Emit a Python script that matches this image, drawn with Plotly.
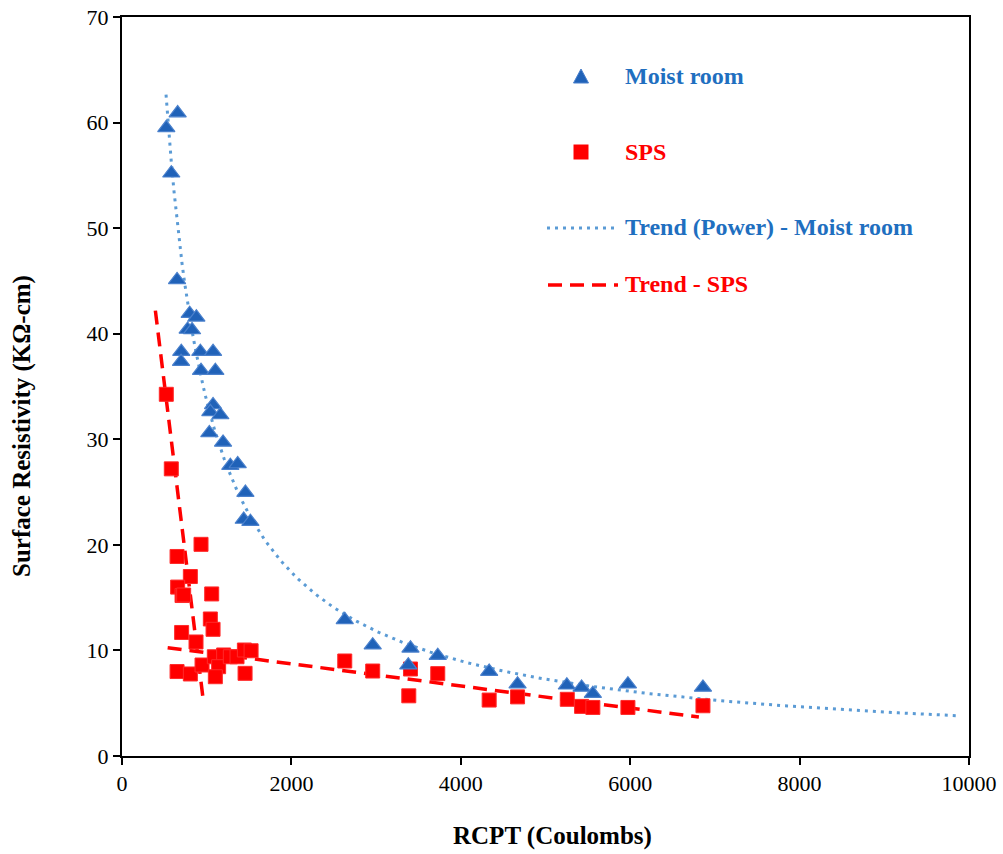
import numpy as np
import plotly.graph_objects as go

# RCPT (Coulombs) vs surface resistivity (kOhm-cm)
moist_x = [523, 657, 582, 650, 799, 878, 775, 827, 700, 697, 925, 1075, 933, 1102,
           1075, 1043, 1161, 1031, 1193, 1279, 1366, 1457, 1437, 1516,
           2630, 2960, 3406, 3380, 3728, 4335, 4670, 5252, 5426, 5559, 5973, 6859]
moist_y = [59.5, 60.9, 55.2, 45.1, 41.9, 41.55, 40.4, 40.35, 38.3, 37.35, 38.3, 38.3, 36.5, 36.5,
           33.25, 32.6, 32.3, 30.6, 29.7, 27.5, 27.66, 24.95, 22.4, 22.2,
           12.9, 10.5, 10.2, 8.6, 9.5, 8.0, 6.8, 6.7, 6.5, 5.9, 6.8, 6.5]

sps_x = [523, 582, 933, 650, 807, 657, 709, 728, 1059, 1043, 1075, 704, 874,
         650, 807, 945, 1090, 1200, 1141, 1102, 1279, 1358, 1445, 1524, 1453,
         2630, 2960, 3406, 3386, 3728, 4335, 4670, 5257, 5426, 5559, 5973, 6859]
sps_y = [34.26, 27.2, 20.05, 18.9, 17.0, 16.0, 15.2, 15.25, 15.35, 12.98, 12.0, 11.7, 10.8,
         8.0, 7.77, 8.62, 9.4, 9.57, 8.46, 7.51, 9.4, 9.4, 10.04, 9.97, 7.83,
         9.0, 8.05, 8.24, 5.7, 7.8, 5.3, 5.6, 5.37, 4.7, 4.6, 4.6, 4.76]

# Trend parameters
power_a, power_b, power_range = 23975.0, -0.951, (520, 9855)
sps_low_slope, sps_low_icpt, sps_low_range = -0.06526, 67.9, (394, 964)
sps_all_slope, sps_all_icpt, sps_all_range = -0.001048, 10.825, (539, 6811)

x_ticks = [0, 2000, 4000, 6000, 8000, 10000]
y_ticks = [0, 10, 20, 30, 40, 50, 60, 70]

BLUE_FILL = "#2062B8"
BLUE_EDGE = "#4A80CC"
BLUE_TREND = "#5B9BD5"
BLUE_TEXT = "#1F6FC0"
RED = "#FF0000"
FONT = "Liberation Serif, Times New Roman, serif"

px_trend = np.linspace(*power_range, 300)
py_trend = power_a * px_trend ** power_b

lx1 = np.array(sps_low_range, dtype=float)
ly1 = sps_low_slope * lx1 + sps_low_icpt
lx2 = np.array(sps_all_range, dtype=float)
ly2 = sps_all_slope * lx2 + sps_all_icpt

fig = go.Figure()
fig.add_trace(go.Scatter(x=px_trend, y=py_trend, mode="lines",
                         line=dict(color=BLUE_TREND, width=3, dash="3px,5px"),
                         showlegend=False, hoverinfo="skip"))
fig.add_trace(go.Scatter(x=list(lx1) + [None] + list(lx2),
                         y=list(ly1) + [None] + list(ly2), mode="lines",
                         line=dict(color=RED, width=3.5, dash="14px,8px"),
                         showlegend=False, hoverinfo="skip"))
fig.add_trace(go.Scatter(x=sps_x, y=sps_y, mode="markers", name="SPS",
                         marker=dict(symbol="square", size=14, color=RED,
                                     line=dict(color="#FF2A2A", width=1)),
                         showlegend=False))
fig.add_trace(go.Scatter(x=moist_x, y=moist_y, mode="markers", name="Moist room",
                         marker=dict(symbol="triangle-up", size=15, color=BLUE_FILL,
                                     line=dict(color=BLUE_EDGE, width=1.2)),
                         showlegend=False))

# plot-area geometry in pixels
L, R, T, B = 122, 969, 17, 756
W, H = 1003, 854


def pxx(p):
    return (p - L) / (R - L)


def pxy(p):
    return (B - p) / (B - T)


shapes = []
annotations = []

# legend glyphs
tx, ty, hw, hh = 581, 76, 7.5, 7
shapes.append(dict(type="path", xref="paper", yref="paper",
                   path=f"M {pxx(tx-hw)},{pxy(ty+hh)} L {pxx(tx+hw)},{pxy(ty+hh)} L {pxx(tx)},{pxy(ty-hh)} Z",
                   fillcolor=BLUE_FILL, line=dict(color=BLUE_EDGE, width=1)))
sx, sy, s = 581, 152, 7.5
shapes.append(dict(type="rect", xref="paper", yref="paper",
                   x0=pxx(sx-s), x1=pxx(sx+s), y0=pxy(sy+s), y1=pxy(sy-s),
                   fillcolor=RED, line=dict(color=RED, width=0)))
shapes.append(dict(type="line", xref="paper", yref="paper",
                   x0=pxx(547), x1=pxx(618), y0=pxy(228), y1=pxy(228),
                   line=dict(color=BLUE_TREND, width=3, dash="3px,5px")))
shapes.append(dict(type="line", xref="paper", yref="paper",
                   x0=pxx(548), x1=pxx(618), y0=pxy(285), y1=pxy(285),
                   line=dict(color=RED, width=3.5, dash="14px,8px")))

legend_items = [("Moist room", BLUE_TEXT, 76), ("SPS", RED, 152),
                ("Trend (Power) - Moist room", BLUE_TEXT, 227), ("Trend - SPS", RED, 284)]
for label, color, yy in legend_items:
    annotations.append(dict(text=f"<b>{label}</b>", xref="paper", yref="paper",
                            x=pxx(623), y=pxy(yy), xanchor="left", yanchor="middle",
                            showarrow=False, font=dict(family=FONT, size=24, color=color)))

# axis titles
annotations.append(dict(text="<b>RCPT (Coulombs)</b>", xref="paper", yref="paper",
                        x=pxx(552), y=pxy(836), xanchor="center", yanchor="middle",
                        showarrow=False, font=dict(family=FONT, size=25, color="black")))
annotations.append(dict(text="<b>Surface Resistivity (KΩ-cm)</b>", xref="paper", yref="paper",
                        x=pxx(22), y=pxy(426), xanchor="center", yanchor="middle",
                        textangle=-90, showarrow=False,
                        font=dict(family=FONT, size=25, color="black")))

axis_style = dict(showgrid=False, zeroline=False, showline=True, linecolor="black", linewidth=2,
                  mirror=True, ticks="outside", ticklen=7, tickwidth=1.5, tickcolor="black",
                  tickfont=dict(family=FONT, size=22), automargin=False)

fig.update_layout(
    width=W, height=H,
    margin=dict(l=L, r=W - R, t=T, b=H - B, pad=0, autoexpand=False),
    paper_bgcolor="white", plot_bgcolor="white",
    font=dict(family=FONT, size=18, color="black"),
    shapes=shapes, annotations=annotations,
    showlegend=False,
    xaxis=dict(range=[0, 10000], tickvals=x_ticks, ticktext=[str(v) for v in x_ticks], **axis_style),
    yaxis=dict(range=[0, 70], tickvals=y_ticks, ticktext=[str(v) for v in y_ticks], **axis_style),
)

fig.write_html("out.html")
